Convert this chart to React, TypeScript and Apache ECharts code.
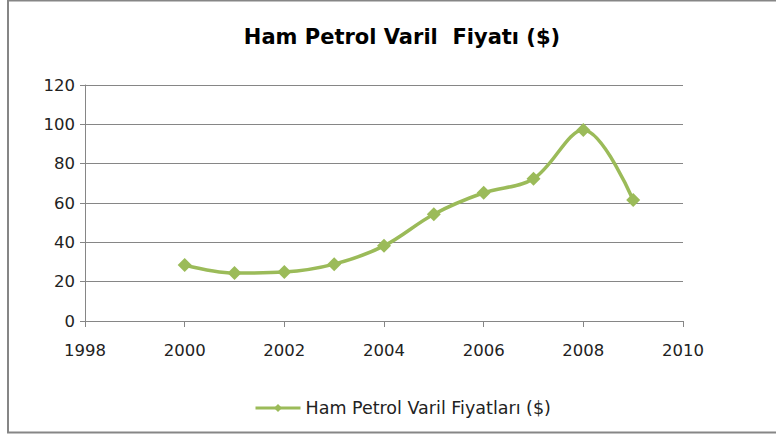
import React, { useEffect, useRef } from "react";
import * as echarts from "echarts";

const years = [2000, 2001, 2002, 2003, 2004, 2005, 2006, 2007, 2008, 2009];
const prices = [28.5, 24.4, 24.9, 28.9, 38.2, 54.3, 65.2, 72.3, 97.1, 61.5];
const seriesName = "Ham Petrol Varil Fiyatları ($)";
const titleText = "Ham Petrol Varil  Fiyatı ($)";

const GREEN = "#9BBB59";

export default function App() {
  const ref = useRef<HTMLDivElement>(null);
  useEffect(() => {
    if (!ref.current) return;
    const chart = echarts.init(ref.current, null, { renderer: "svg" });
    chart.setOption({
      animation: false,
      backgroundColor: "#ffffff",
      graphic: [
        {
          type: "rect",
          shape: { x: 8, y: 0.5, width: 800, height: 432 },
          style: { fill: "none", stroke: "#868686", lineWidth: 2 },
          silent: true,
        },
      ],
      title: {
        text: titleText,
        left: 397,
        textAlign: "center",
        top: 21,
        textStyle: {
          fontFamily: "DejaVu Sans",
          fontWeight: "bold",
          fontSize: 21,
          color: "#000",
        },
      },
      legend: {
        data: [seriesName],
        left: 249,
        top: 394,
        itemWidth: 45,
        itemHeight: 10,
        itemGap: 4,
        lineStyle: { width: 3 },
        textStyle: { fontFamily: "DejaVu Sans", fontSize: 17.5, color: "#222" },
      },
      grid: { left: 85, right: 93, top: 85, bottom: 113 },
      xAxis: {
        type: "value",
        min: 1998,
        max: 2010,
        interval: 2,
        axisLine: { show: true, lineStyle: { color: "#868686", width: 1 } },
        axisTick: { show: true, length: 6, lineStyle: { color: "#868686" } },
        splitLine: { show: false },
        axisLabel: {
          fontFamily: "DejaVu Sans",
          fontSize: 16.5,
          color: "#222",
          margin: 21,
          formatter: (v: number) => String(v),
        },
      },
      yAxis: {
        type: "value",
        min: 0,
        max: 120,
        interval: 20,
        axisLine: { show: true, lineStyle: { color: "#868686", width: 1 } },
        axisTick: { show: true, length: 5, lineStyle: { color: "#868686" } },
        splitLine: { show: true, lineStyle: { color: "#868686", width: 1 } },
        axisLabel: {
          fontFamily: "DejaVu Sans",
          fontSize: 16.5,
          color: "#222",
          margin: 10,
        },
      },
      series: [
        {
          name: seriesName,
          type: "line",
          smooth: 0.35,
          data: years.map((y, i) => [y, prices[i]]),
          symbol: "diamond",
          symbolSize: 14,
          itemStyle: { color: GREEN },
          lineStyle: { color: GREEN, width: 3.5 },
        },
      ],
    });
    return () => chart.dispose();
  }, []);
  return <div ref={ref} style={{ width: 776, height: 434, position: "absolute", left: 0, top: 0 }} />;
}
